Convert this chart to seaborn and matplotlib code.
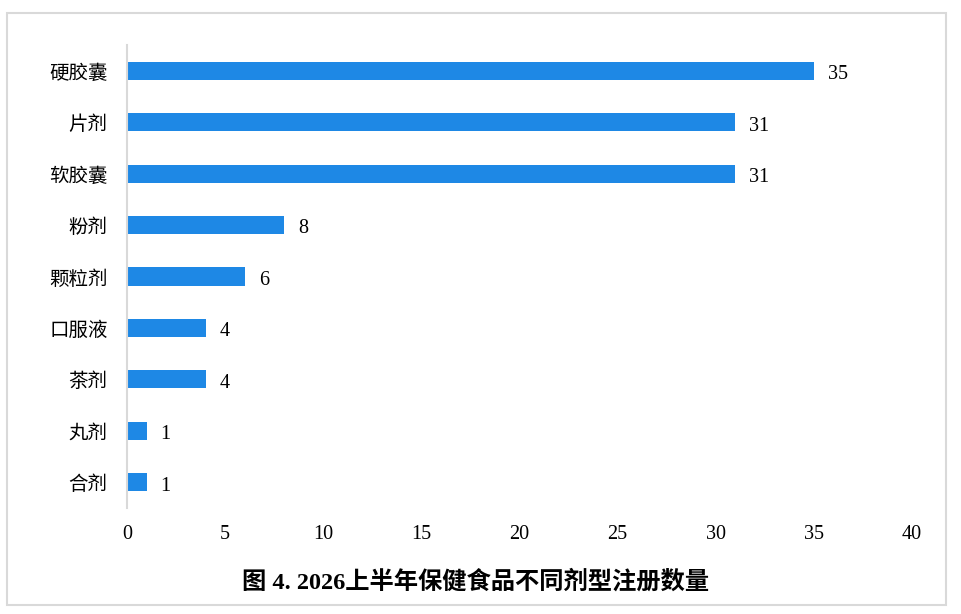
import matplotlib
matplotlib.use("Agg")
import matplotlib.pyplot as plt
from matplotlib.patches import Rectangle
import seaborn as sns
import pandas as pd

categories = ["硬胶囊", "片剂", "软胶囊", "粉剂", "颗粒剂", "口服液", "茶剂", "丸剂", "合剂"]
values = [35, 31, 31, 8, 6, 4, 4, 1, 1]
xticks = [0, 5, 10, 15, 20, 25, 30, 35, 40]
title = "图 4. 2026上半年保健食品不同剂型注册数量"

sns.set_theme(style="white")
plt.rcParams['font.family'] = ['Liberation Serif', 'Noto Sans CJK SC', 'DejaVu Sans']

df = pd.DataFrame({"cat": categories, "val": values})

fig = plt.figure(figsize=(9.61, 6.14), dpi=100)
ax = fig.add_axes([127/961, 1-508/614, (912-127)/961, (508-45)/614])

sns.barplot(data=df, x="val", y="cat", orient="h", color="#1E88E5",
            saturation=1, width=0.35, linewidth=0, ax=ax)

ax.set_xlim(0, 40)
ax.set_ylim(len(categories) - 0.5, -0.5)
ax.set_xticks(xticks)
ax.set_xticklabels([str(t) for t in xticks], fontsize=14.5,
                   family=['Liberation Serif'])
ax.set_yticks(range(len(categories)))
ax.set_yticklabels(categories, fontsize=14, family=['Noto Sans CJK SC'],
                   fontweight='light')
ax.tick_params(axis='x', length=0, pad=12, colors='#000000')
ax.tick_params(axis='y', length=0, pad=14, colors='#000000')
ax.set_xlabel("")
ax.set_ylabel("")

for s in ["top", "right", "bottom"]:
    ax.spines[s].set_visible(False)
ax.spines["left"].set_color("#d9d9d9")
ax.spines["left"].set_linewidth(1.5)

for i, v in enumerate(values):
    ax.annotate(str(v), xy=(v, i), xytext=(10, -1), textcoords="offset points",
                va="center_baseline", ha="left", fontsize=14.5,
                family=['Liberation Serif'], color="#000000")

fig.text(476/961, 1-582/614, title, ha="center", va="center", fontsize=17.5,
         fontweight="bold", family=['Liberation Serif', 'Noto Sans CJK SC'],
         color="#000000")

fig.patches.append(Rectangle((7/961, 1-605/614), (946-7)/961, (605-13)/614,
                             transform=fig.transFigure, fill=False,
                             edgecolor="#d9d9d9", linewidth=1.5))

fig.savefig("out.png", dpi=100)
